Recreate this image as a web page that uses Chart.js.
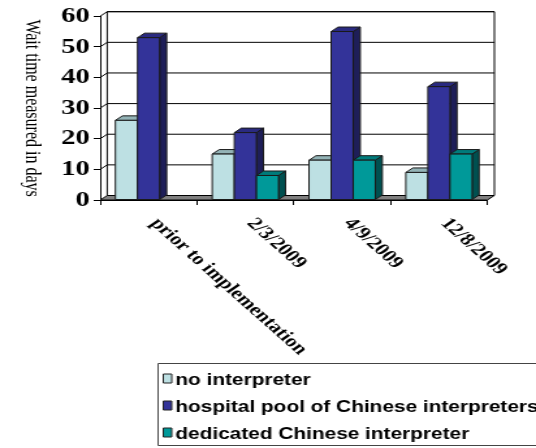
<!DOCTYPE html>
<html><head><meta charset="utf-8">
<script src="https://cdn.jsdelivr.net/npm/chart.js@4"></script>
<style>
html,body{margin:0;padding:0;background:#fff;overflow:hidden;}
#wrap{position:absolute;left:0;top:0;width:412px;height:448px;transform:scaleX(1.301);transform-origin:0 0;}
</style></head><body>
<div id="wrap"><canvas id="c"></canvas></div>
<script>
const categories = ['prior to implementation', '2/3/2009', '4/9/2009', '12/8/2009'];
const noInterpreter = [26, 15, 13, 9];
const hospitalPool = [53, 22, 55, 37];
const dedicatedInterpreter = [0, 8, 13, 15];
const seriesNames = ['no interpreter', 'hospital pool of Chinese interpreters', 'dedicated Chinese interpreter'];
const yTicks = [0, 10, 20, 30, 40, 50, 60];
const yTitle = 'Wait time measured in days';

const frontColors = ['#BDE0E3', '#333399', '#009999'];
const topColors = ['#93B3B6', '#2A2A80', '#007B7B'];
const sideColors = ['#6F8C8E', '#1E1E58', '#005050'];
const DX = 5.4, DY = -4.5;

function poly(ctx, pts, fill, stroke) {
  ctx.beginPath();
  ctx.moveTo(pts[0][0], pts[0][1]);
  for (let i = 1; i < pts.length; i++) ctx.lineTo(pts[i][0], pts[i][1]);
  ctx.closePath();
  ctx.fillStyle = fill; ctx.fill();
  ctx.strokeStyle = stroke; ctx.stroke();
}

const plugin3d = {
  id: 'threeD',
  beforeDatasetsDraw(chart) {
    const ctx = chart.ctx, a = chart.chartArea, ys = chart.scales.y;
    ctx.save();
    ctx.lineWidth = 1;
    // back wall
    poly(ctx, [[a.left + DX, a.top + DY], [a.right + DX, a.top + DY], [a.right + DX, a.bottom + DY], [a.left + DX, a.bottom + DY]], '#fff', '#000');
    // gridlines on side wall + back wall
    ctx.strokeStyle = '#000';
    yTicks.forEach(v => {
      if (v === 0) return;
      const py = ys.getPixelForValue(v);
      ctx.beginPath();
      ctx.moveTo(a.left, py); ctx.lineTo(a.left + DX, py + DY); ctx.lineTo(a.right + DX, py + DY);
      ctx.stroke();
    });
    // floor
    poly(ctx, [[a.left, a.bottom], [a.right, a.bottom], [a.right + DX, a.bottom + DY], [a.left + DX, a.bottom + DY]], '#808080', '#000');
    // bars
    const n = chart.data.datasets.length;
    for (let c = 0; c < categories.length; c++) {
      for (let s = 0; s < n; s++) {
        const el = chart.getDatasetMeta(s).data[c];
        const v = chart.data.datasets[s].data[c];
        if (!v) continue;
        const L = el.x - el.width / 2, R = el.x + el.width / 2, T = el.y, B = el.base;
        const edge = '#1a1a1a';
        poly(ctx, [[R, T], [R + DX, T + DY], [R + DX, B + DY], [R, B]], sideColors[s], edge);
        poly(ctx, [[L, T], [R, T], [R + DX, T + DY], [L + DX, T + DY]], topColors[s], edge);
        poly(ctx, [[L, T], [R, T], [R, B], [L, B]], frontColors[s], edge);
      }
    }
    ctx.restore();
    return false;
  }
};

const labelsPlugin = {
  id: 'labels3d',
  afterDraw(chart) {
    const ctx = chart.ctx, xs = chart.scales.x, a = chart.chartArea;
    ctx.save();
    // rotated category labels
    ctx.fillStyle = '#000';
    ctx.font = 'bold 17px "Liberation Serif", "Times New Roman", serif';
    ctx.textAlign = 'left';
    ctx.textBaseline = 'top';
    categories.forEach((lab, i) => {
      const cx = xs.getPixelForValue(i);
      ctx.save();
      ctx.translate(cx + 10.5, a.bottom + 15);
      ctx.rotate(49 * Math.PI / 180);
      ctx.fillText(lab, 0, 0);
      ctx.restore();
    });
    // y axis title, reading top to bottom
    ctx.save();
    ctx.font = '16px "Liberation Serif", "Times New Roman", serif';
    ctx.textAlign = 'center';
    ctx.textBaseline = 'middle';
    ctx.translate(24.6, (a.top + a.bottom) / 2);
    ctx.rotate(Math.PI / 2);
    ctx.fillText(yTitle, 0, 0);
    ctx.restore();
    // legend
    ctx.lineWidth = 1;
    ctx.strokeStyle = '#444';
    ctx.fillStyle = '#fff';
    ctx.beginPath(); ctx.rect(121.5, 363.5, 400, 82); ctx.fill(); ctx.stroke();
    ctx.font = 'bold 16px "Liberation Sans", Arial, sans-serif';
    ctx.textAlign = 'left';
    ctx.textBaseline = 'alphabetic';
    seriesNames.forEach((nm, i) => {
      const cy = 378.5 + i * 27;
      ctx.fillStyle = frontColors[i];
      ctx.strokeStyle = '#222';
      ctx.beginPath(); ctx.rect(125.5, cy - 4.5, 6.5, 9); ctx.fill(); ctx.stroke();
      ctx.fillStyle = '#000';
      ctx.fillText(nm, 134.8, cy + 6);
    });
    ctx.restore();
  }
};

new Chart(document.getElementById('c'), {
  type: 'bar',
  data: {
    labels: categories,
    datasets: [
      { label: seriesNames[0], data: noInterpreter, backgroundColor: frontColors[0] },
      { label: seriesNames[1], data: hospitalPool, backgroundColor: frontColors[1] },
      { label: seriesNames[2], data: dedicatedInterpreter, backgroundColor: frontColors[2] }
    ]
  },
  options: {
    responsive: true,
    maintainAspectRatio: false,
    animation: false,
    layout: { padding: { top: 16, right: 37.4, left: 0, bottom: 0 } },
    plugins: { legend: { display: false }, tooltip: { enabled: false } },
    datasets: { bar: { categoryPercentage: 0.685, barPercentage: 1 } },
    scales: {
      x: {
        offset: true,
        grid: { offset: true, drawOnChartArea: false, drawTicks: true, tickLength: 5, color: '#000' },
        border: { display: true, color: '#000' },
        ticks: { display: false },
        afterFit(s) { s.height = 248; }
      },
      y: {
        min: 0, max: 60,
        afterBuildTicks(s) { s.ticks = yTicks.map(v => ({ value: v })); },
        grid: { drawOnChartArea: false, drawTicks: true, tickLength: 5, color: '#000' },
        border: { display: true, color: '#000' },
        ticks: { color: '#000', padding: 3, font: { family: '"Liberation Serif", "Times New Roman", serif', size: 22, weight: 'bold' } },
        afterFit(s) { s.width = 77; }
      }
    }
  },
  plugins: [plugin3d, labelsPlugin]
});
</script>
</body></html>
